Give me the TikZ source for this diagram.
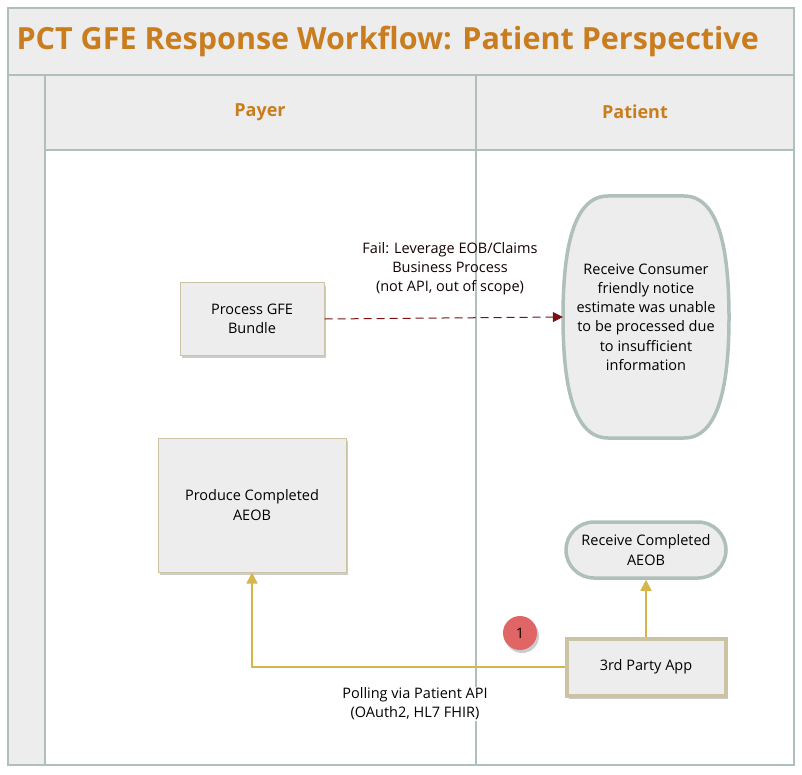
\documentclass[tikz,border=0pt]{standalone}
\usepackage{fontspec}
\setmainfont{Open Sans}
\usetikzlibrary{shapes, arrows.meta, positioning, calc, shadows}
\definecolor{titleorange}{HTML}{C97D1F}
\definecolor{lanegrey}{HTML}{EDEDED}
\definecolor{laneline}{HTML}{AFC0BA}
\definecolor{boxtan}{HTML}{CCC3A5}
\definecolor{failred}{HTML}{7A1010}
\definecolor{pollgold}{HTML}{D4B64A}
\definecolor{markred}{HTML}{E06666}
\newcommand{\bodyfont}{\fontsize{14.5}{19.2}\selectfont}

\begin{document}
\begin{tikzpicture}[x=1pt, y=-1pt, node distance=57pt and 20pt,
		task/.style={draw=boxtan, fill=lanegrey, line width=1pt, align=center, font=\bodyfont,
			drop shadow={shadow xshift=2pt, shadow yshift=-3pt, fill=black, opacity=0.2}},
		event/.style={draw=laneline, fill=lanegrey, line width=3.5pt, line join=round, align=center, font=\bodyfont},
		frame/.style={draw=laneline, line width=1.3pt},
		fail/.style={draw=failred, dash pattern=on 8pt off 5pt, line width=1pt, -{Triangle[length=10pt, width=10pt]}},
		poll/.style={draw=pollgold, line width=1.3pt, -{Triangle[length=11pt, width=11pt]}}]
			\useasboundingbox (0,0) rectangle (802,775);
			% pool and lanes
			\fill[lanegrey] (8,8) rectangle (794,75);
			\fill[lanegrey] (8,75) rectangle (45,765);
			\fill[lanegrey] (45,75) rectangle (794,150);
			\draw[frame] (8,8) rectangle (794,765);
			\draw[frame] (8,75) -- (794,75);
			\draw[frame] (45,75) -- (45,765);
			\draw[frame, line width=2pt] (45,150) -- (794,150);
			\draw[frame, line width=2pt] (476,75) -- (476,765);
			\node[anchor=west, text=titleorange, font=\fontsize{30.5}{36}\selectfont\bfseries] (title) at (13,41) {PCT GFE Response Workflow: Patient Perspective};
			\node[text=titleorange, font=\fontsize{18}{22}\selectfont\bfseries] (payer) at (260,112) {Payer};
			\node[text=titleorange, font=\fontsize{18}{22}\selectfont\bfseries] (patient) at (635,112) {Patient};
			% steps
			\node[task, minimum width=144pt, minimum height=72pt] (bundle) at (252,319) {Process GFE\\Bundle};
			\node[task, minimum width=188pt, minimum height=134pt] (aeob) at (252,505) {Produce Completed\\AEOB};
			% tall end event, bulging sides
			\coordinate (nc) at (646,317);
			\draw[event] ($(nc)+(0,-121)$) -- ($(nc)+(-38,-121)$) .. controls ($(nc)+(-72,-121)$) and ($(nc)+(-83,-70)$) .. ($(nc)+(-83,0)$)
				.. controls ($(nc)+(-83,70)$) and ($(nc)+(-72,121)$) .. ($(nc)+(-38,121)$) -- ($(nc)+(38,121)$)
				.. controls ($(nc)+(72,121)$) and ($(nc)+(83,70)$) .. ($(nc)+(83,0)$)
				.. controls ($(nc)+(83,-70)$) and ($(nc)+(72,-121)$) .. ($(nc)+(38,-121)$) -- cycle;
			\node[align=center, font=\bodyfont, minimum width=166pt, minimum height=241pt] (notice) at (nc) {Receive Consumer\\friendly notice\\estimate was unable\\to be processed due\\to insufficient\\information};
			\node[event, rectangle, rounded corners=28pt, minimum width=160pt, minimum height=56pt] (received) at (646,550) {Receive Completed\\AEOB};
			\node[task, draw=boxtan, line width=4pt, minimum width=159pt, minimum height=57pt, below=of received.center, anchor=center, yshift=-60pt] (app) {3rd Party App};
			\node[circle, fill=markred, minimum size=34pt, inner sep=0pt, font=\bodyfont,
				drop shadow={shadow xshift=2pt, shadow yshift=-3pt, fill=black, opacity=0.2}] (one) at (520,633) {1};
			% flows
			\draw[fail] (bundle.east) -- (notice.west);
			\node[align=center, font=\bodyfont, text=black!85!failred] (faillbl) at (450,269) {Fail: Leverage EOB/Claims\\Business Process\\(not API, out of scope)};
			\draw[poll] (app.west) -| (aeob.south);
			\draw[poll] (app.north) -- (received.south);
			\node[align=center, font=\bodyfont, fill=white, inner sep=1pt] (polllbl) at (415,704) {Polling via Patient API\\(OAuth2, HL7 FHIR)};
		\end{tikzpicture}
\end{document}
